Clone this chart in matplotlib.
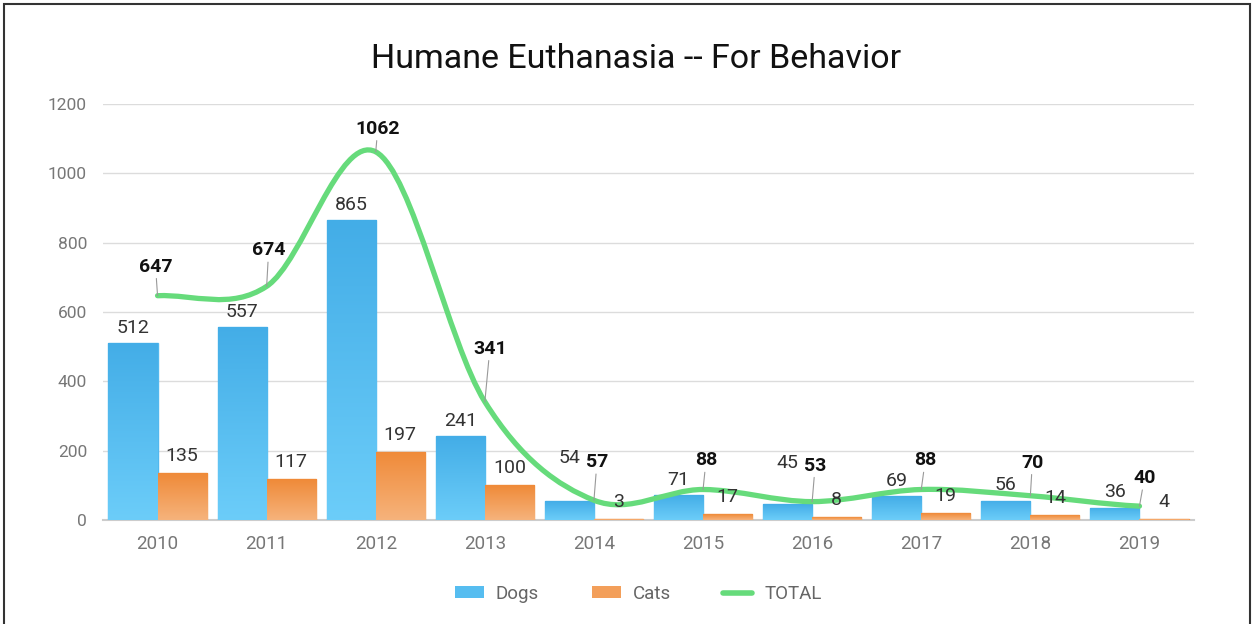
import matplotlib
matplotlib.use("Agg")
import matplotlib.pyplot as plt
import numpy as np
from matplotlib.path import Path
from matplotlib.patches import PathPatch, Patch, Rectangle
from matplotlib.lines import Line2D
from matplotlib.colors import LinearSegmentedColormap

years = ["2010", "2011", "2012", "2013", "2014", "2015", "2016", "2017", "2018", "2019"]
dogs = [512, 557, 865, 241, 54, 71, 45, 69, 56, 36]
cats = [135, 117, 197, 100, 3, 17, 8, 19, 14, 4]
total = [647, 674, 1062, 341, 57, 88, 53, 88, 70, 40]

# label placement (pixels) - hand tuned to avoid overlaps
total_label_off = [(-2, 30), (2, 37), (2, 24), (5, 54), (3, 39), (3, 30), (3, 37), (4, 30), (2, 34), (5, 29)]
dog_label_dy = [16, 16, 16, 16, 44, 16, 42, 16, 17, 17]

plt.rcParams['font.family'] = ['Roboto', 'DejaVu Sans']

fig = plt.figure(figsize=(12.54, 6.24), dpi=100)
ax = fig.add_axes([103 / 1254, 1 - 520 / 624, (1194 - 103) / 1254, (520 - 104) / 624])

x = np.arange(len(years))
w = 0.45

blue_cm = LinearSegmentedColormap.from_list("b", ["#6ccdf9", "#43ade7"])
orange_cm = LinearSegmentedColormap.from_list("o", ["#f6b37c", "#ef8a38"])
grad = np.linspace(0, 1, 256).reshape(-1, 1)

dog_bars = ax.bar(x - w / 2, dogs, w, color="#56bdf0", edgecolor="#52b8ee", lw=1, zorder=2)
cat_bars = ax.bar(x + w / 2, cats, w, color="#f39f5a", edgecolor="#f2964c", lw=1, zorder=2)

for bars, cm in ((dog_bars, blue_cm), (cat_bars, orange_cm)):
    for b in bars:
        x0, y0 = b.get_x(), b.get_y()
        im = ax.imshow(grad, extent=[x0, x0 + b.get_width(), y0, y0 + b.get_height()],
                       origin="lower", aspect="auto", cmap=cm, zorder=2.1)
        im.set_clip_path(b)

# smooth line through totals (Catmull-Rom as cubic beziers)
tv = np.array(total, dtype=float)
tang = np.zeros_like(tv)
tang[1:-1] = (tv[2:] - tv[:-2]) / 2
tang[0] = (tv[1] - tv[0]) / 2
tang[-1] = (tv[-1] - tv[-2]) / 2
verts = [(x[0], tv[0])]
codes = [Path.MOVETO]
for i in range(len(tv) - 1):
    verts += [(x[i] + 1 / 3, tv[i] + tang[i] / 3),
              (x[i + 1] - 1 / 3, tv[i + 1] - tang[i + 1] / 3),
              (x[i + 1], tv[i + 1])]
    codes += [Path.CURVE4] * 3
ax.add_patch(PathPatch(Path(verts, codes), facecolor="none", edgecolor="#66db7b",
                       lw=3.8, capstyle="round", joinstyle="round", zorder=4))

for i, v in enumerate(total):
    dx, dy = total_label_off[i]
    ax.annotate(str(v), (x[i], v), xytext=(dx * 0.72, (dy - 10) * 0.72), textcoords="offset points",
                ha="center", va="bottom", fontsize=14, fontweight="bold", color="#111111",
                arrowprops=dict(arrowstyle="-", color="#999999", lw=0.8, shrinkA=0, shrinkB=0),
                zorder=6)

for i, b in enumerate(dog_bars):
    ax.annotate(str(dogs[i]), (b.get_x() + b.get_width() / 2, dogs[i]),
                xytext=(0, (dog_label_dy[i] - 10) * 0.72), textcoords="offset points",
                ha="center", va="bottom", fontsize=14, color="#333333", zorder=5)
for i, b in enumerate(cat_bars):
    ax.annotate(str(cats[i]), (b.get_x() + b.get_width() / 2, cats[i]),
                xytext=(0, 8 * 0.72), textcoords="offset points",
                ha="center", va="bottom", fontsize=14, color="#333333", zorder=5)

ax.set_xlim(-0.5, len(years) - 0.5)
ax.set_ylim(0, 1200)
ax.set_yticks(np.arange(0, 1201, 200))
ax.set_xticks(x)
ax.set_xticklabels(years)
ax.tick_params(length=0, labelcolor="#777777")
ax.tick_params(axis="x", pad=11, labelsize=13.5)
ax.tick_params(axis="y", pad=11.5, labelsize=12.5)
ax.grid(axis="y", color="#dcdcdc", lw=1)
ax.set_axisbelow(True)
for s in ("top", "right", "left"):
    ax.spines[s].set_visible(False)
ax.spines["bottom"].set_color("#cccccc")
ax.spines["bottom"].set_linewidth(1.5)
ax.spines["bottom"].set_zorder(1.5)

fig.text(0.507, 1 - 59 / 624, "Humane Euthanasia -- For Behavior", ha="center", va="center",
         fontsize=24.5, color="#111111")

handles = [Patch(facecolor="#56bdf0"), Patch(facecolor="#f39f5a"),
           Line2D([], [], color="#66db7b", lw=4, solid_capstyle="round")]
leg = fig.legend(handles, ["Dogs", "Cats", "TOTAL"], loc="center", bbox_to_anchor=(0.509, 1 - 594 / 624),
                 ncol=3, frameon=False, fontsize=13.5, handlelength=1.55, handleheight=0.6,
                 columnspacing=2.8, handletextpad=0.64)
for t in leg.get_texts():
    t.set_color("#666666")

fig.patches.append(Rectangle((4 / 1254, -0.1), 1246 / 1254, 1.1 - 4 / 624, transform=fig.transFigure,
                             fill=False, edgecolor="#333333", lw=1.5))

fig.savefig("out.png", dpi=100)
